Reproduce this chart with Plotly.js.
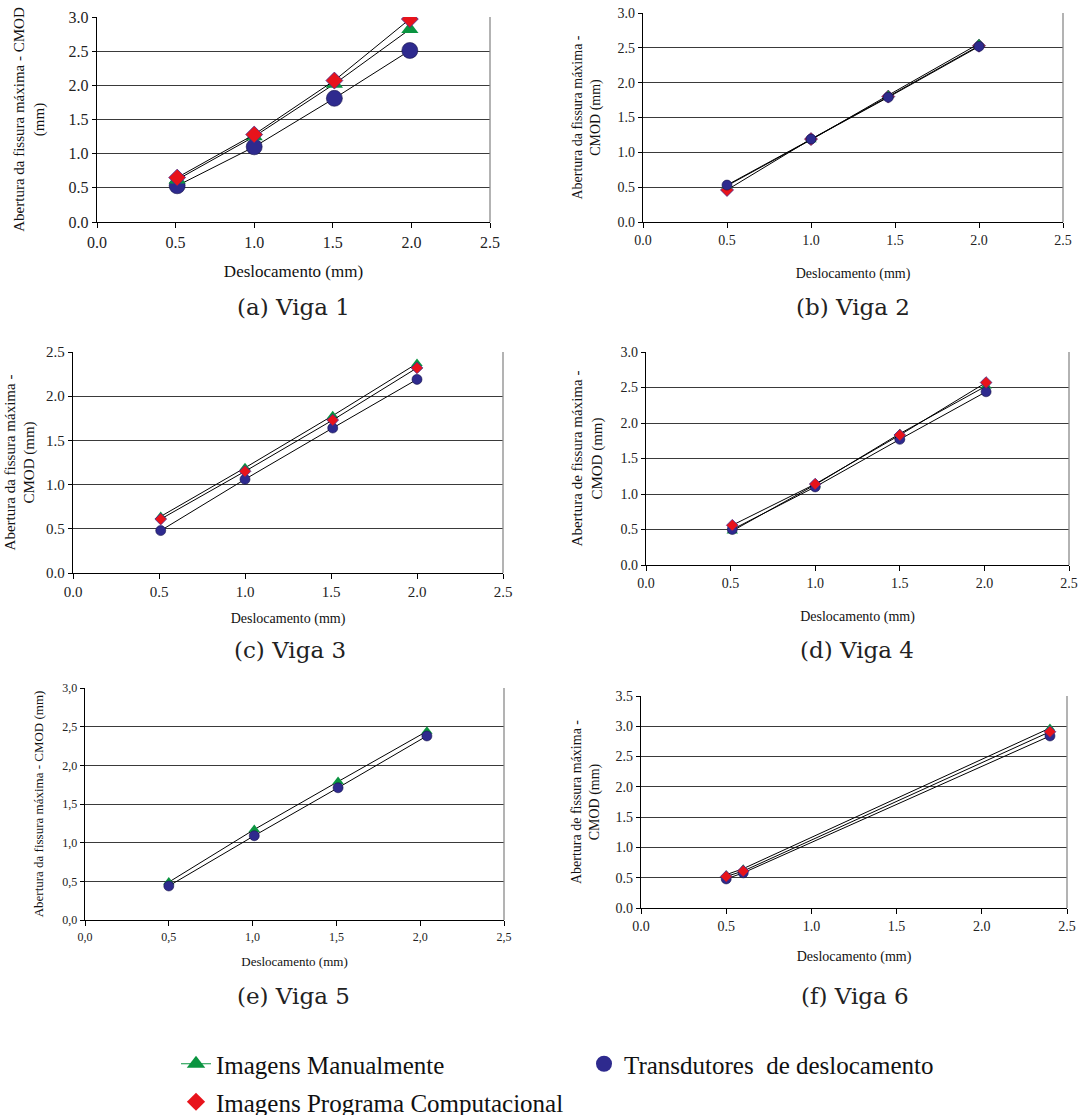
<!DOCTYPE html>
<html>
<head>
<meta charset="utf-8">
<script src="https://cdn.plot.ly/plotly-3.0.1.min.js"></script>
<style>html,body{margin:0;padding:0;background:#fff;}#chart{width:1083px;height:1115px;}</style>
</head>
<body>
<div id="chart"></div>
<script>
// ---- Data ----
const seriesNames = ["Imagens Manualmente", "Transdutores  de deslocamento", "Imagens Programa Computacional"];

const viga1_x      = [0.51, 1.00, 1.51, 1.99];
const viga1_manual = [0.62, 1.25, 2.02, 2.82];
const viga1_trans  = [0.53, 1.10, 1.81, 2.51];
const viga1_comp   = [0.65, 1.28, 2.07, 2.97];

const viga2_x      = [0.50, 1.00, 1.46, 2.00];
const viga2_manual = [0.52, 1.18, 1.82, 2.56];
const viga2_trans  = [0.53, 1.19, 1.79, 2.52];
const viga2_comp   = [0.46, 1.19, 1.80, 2.53];

const viga3_x      = [0.51, 1.00, 1.51, 2.00];
const viga3_manual = [0.64, 1.19, 1.78, 2.37];
const viga3_trans  = [0.48, 1.06, 1.64, 2.19];
const viga3_comp   = [0.61, 1.15, 1.73, 2.32];

const viga4_x      = [0.51, 1.00, 1.50, 2.01];
const viga4_manual = [0.48, 1.13, 1.85, 2.52];
const viga4_trans  = [0.50, 1.10, 1.77, 2.44];
const viga4_comp   = [0.56, 1.14, 1.83, 2.57];

const viga5_x      = [0.50, 1.01, 1.51, 2.04];
const viga5_manual = [0.49, 1.17, 1.79, 2.44];
const viga5_trans  = [0.44, 1.09, 1.71, 2.38];

const viga6_x      = [0.50, 0.60, 2.40];
const viga6_manual = [0.55, 0.65, 2.97];
const viga6_trans  = [0.48, 0.58, 2.84];
const viga6_comp   = [0.52, 0.61, 2.91];

const captions = ["(a) Viga 1", "(b) Viga 2", "(c) Viga 3", "(d) Viga 4", "(e) Viga 5", "(f) Viga 6"];
const xTitle = "Deslocamento (mm)";
const yTitles = [
  "Abertura da fissura máxima - CMOD<br>(mm)",
  "Abertura da fissura máxima -<br>CMOD (mm)",
  "Abertura da fissura máxima -<br>CMOD (mm)",
  "Abertura de fissura máxima -<br>CMOD (mm)",
  "Abertura da fissura máxima - CMOD (mm)",
  "Abertura de fissura máxima -<br>CMOD (mm)"
];
const xTickVals = [0, 0.5, 1.0, 1.5, 2.0, 2.5];
const xTickTextDot = ["0.0", "0.5", "1.0", "1.5", "2.0", "2.5"];
const xTickTextComma = ["0,0", "0,5", "1,0", "1,5", "2,0", "2,5"];
const yTickVals3 = [0, 0.5, 1.0, 1.5, 2.0, 2.5, 3.0];
const yTickText3Dot = ["0.0", "0.5", "1.0", "1.5", "2.0", "2.5", "3.0"];
const yTickText3Comma = ["0,0", "0,5", "1,0", "1,5", "2,0", "2,5", "3,0"];
const yTickVals25 = [0, 0.5, 1.0, 1.5, 2.0, 2.5];
const yTickText25 = ["0.0", "0.5", "1.0", "1.5", "2.0", "2.5"];
const yTickVals35 = [0, 0.5, 1.0, 1.5, 2.0, 2.5, 3.0, 3.5];
const yTickText35 = ["0.0", "0.5", "1.0", "1.5", "2.0", "2.5", "3.0", "3.5"];

// ---- Styles ----
const W = 1083, H = 1115;
const FONT = "'Liberation Serif', 'Times New Roman', serif";
const CAPFONT = "'DejaVu Serif', serif";
const GREEN = "#0a9440", NAVY = "#2e2a8e", RED = "#e8131b";

// plot areas in pixels: [left, right, top, bottom]
const boxes = [
  [97, 490, 17, 222],
  [643, 1063, 13, 222],
  [73, 503, 352, 573],
  [646, 1069, 352, 565],
  [85, 504, 688, 920],
  [641, 1067, 696, 908]
];
const captionPos = [[293, 307], [853, 307], [290, 650], [857, 650], [293, 996], [855, 996]];

function mk(kind, size) {
  if (kind === "manual") return {symbol: "triangle-up", color: GREEN, size: size, line: {color: GREEN, width: 0}};
  if (kind === "trans") return {symbol: "circle", color: NAVY, size: size, line: {color: "#15134a", width: 0.6}};
  return {symbol: "diamond", color: RED, size: size, line: {color: "#4a2a8a", width: 0.8}};
}
function tr(i, x, y, kind, size) {
  const ax = i === 0 ? "" : String(i + 1);
  return {
    x: x, y: y, type: "scatter", mode: "lines+markers",
    xaxis: "x" + ax, yaxis: "y" + ax, showlegend: false, hoverinfo: "skip",
    line: {color: "#000", width: 1},
    marker: mk(kind, size)
  };
}

const traces = [
  tr(0, viga1_x, viga1_trans, "trans", 16),
  tr(0, viga1_x, viga1_manual, "manual", 15),
  tr(0, viga1_x, viga1_comp, "comp", 13),

  tr(1, viga2_x, viga2_comp, "comp", 10),
  tr(1, viga2_x, viga2_manual, "manual", 10),
  tr(1, viga2_x, viga2_trans, "trans", 10),

  tr(2, viga3_x, viga3_trans, "trans", 10),
  tr(2, viga3_x, viga3_manual, "manual", 10),
  tr(2, viga3_x, viga3_comp, "comp", 9),

  tr(3, viga4_x, viga4_manual, "manual", 10),
  tr(3, viga4_x, viga4_trans, "trans", 10),
  tr(3, viga4_x, viga4_comp, "comp", 9),

  tr(4, viga5_x, viga5_manual, "manual", 10),
  tr(4, viga5_x, viga5_trans, "trans", 10),

  tr(5, viga6_x, viga6_manual, "manual", 9),
  tr(5, viga6_x, viga6_trans, "trans", 10),
  tr(5, viga6_x, viga6_comp, "comp", 9)
];

// legend-only entries
traces.push({x: [null], y: [null], type: "scatter", mode: "lines+markers", name: seriesNames[0],
  legend: "legend", line: {color: GREEN, width: 1}, marker: {symbol: "triangle-up", color: GREEN, size: 16}, hoverinfo: "skip"});
traces.push({x: [null], y: [null], type: "scatter", mode: "markers", name: seriesNames[1],
  legend: "legend2", marker: {symbol: "circle", color: NAVY, size: 16}, hoverinfo: "skip"});
traces.push({x: [null], y: [null], type: "scatter", mode: "markers", name: seriesNames[2],
  legend: "legend3", marker: {symbol: "diamond", color: RED, size: 14}, hoverinfo: "skip"});

const legFont = {family: FONT, size: 25, color: "#111"};
const layout = {
  width: W, height: H,
  margin: {l: 0, r: 0, t: 0, b: 0, autoexpand: false},
  paper_bgcolor: "#fff", plot_bgcolor: "#fff",
  font: {family: FONT, color: "#111", size: 13},
  showlegend: true,
  legend: {x: 176 / W, y: 1 - 1041 / H, xanchor: "left", yanchor: "top", font: legFont, bgcolor: "rgba(0,0,0,0)"},
  legend2: {x: 584 / W, y: 1 - 1041 / H, xanchor: "left", yanchor: "top", font: legFont, bgcolor: "rgba(0,0,0,0)"},
  legend3: {x: 176 / W, y: 1 - 1079 / H, xanchor: "left", yanchor: "top", font: legFont, bgcolor: "rgba(0,0,0,0)"},
  annotations: [],
  shapes: []
};

const tickSizes = [16, 14, 15, 14, 12, 14];
const xTitleSizes = [17, 14, 14, 14, 13, 14];
const yTitleSizes = [15, 14, 15, 15, 13, 14];
const yRanges = [[0, 3], [0, 3], [0, 2.5], [0, 3], [0, 3], [0, 3.5]];
const yTV = [yTickVals3, yTickVals3, yTickVals25, yTickVals3, yTickVals3, yTickVals35];
const yTT = [yTickText3Dot, yTickText3Dot, yTickText25, yTickText3Dot, yTickText3Comma, yTickText35];
const xTT = [xTickTextDot, xTickTextDot, xTickTextDot, xTickTextDot, xTickTextComma, xTickTextDot];
const yStandoff = [20, 13, 7, 14, 15, 12];
const xStandoff = [15, 21, 14, 21, 14, 18];

boxes.forEach((b, i) => {
  const ax = i === 0 ? "" : String(i + 1);
  layout["xaxis" + ax] = {
    domain: [b[0] / W, b[1] / W], anchor: "y" + ax,
    range: [0, 2.5], tickmode: "array", tickvals: xTickVals, ticktext: xTT[i],
    showline: true, linecolor: "#000", linewidth: 1.3, ticks: "outside", ticklen: 5, tickcolor: "#000",
    showgrid: false, zeroline: false,
    tickfont: {family: FONT, size: tickSizes[i], color: "#222"},
    title: {text: xTitle, font: {family: FONT, size: xTitleSizes[i], color: "#111"}, standoff: xStandoff[i]}
  };
  layout["yaxis" + ax] = {
    domain: [1 - b[3] / H, 1 - b[2] / H], anchor: "x" + ax,
    range: yRanges[i], tickmode: "array", tickvals: yTV[i], ticktext: yTT[i],
    showline: true, linecolor: "#000", linewidth: 1.3, ticks: "outside", ticklen: 4, tickcolor: "#000",
    showgrid: true, gridcolor: "#3a3a3a", gridwidth: 1, zeroline: false,
    tickfont: {family: FONT, size: tickSizes[i], color: "#222"},
    title: {text: yTitles[i], font: {family: FONT, size: yTitleSizes[i], color: "#111"}, standoff: yStandoff[i]}
  };
  // right border (grey)
  layout.shapes.push({type: "line", xref: "x" + ax + " domain", yref: "y" + ax + " domain",
    x0: 1, x1: 1, y0: 0, y1: 1, line: {color: "#8a8a8a", width: 1.3}});
  layout.annotations.push({text: captions[i], xref: "paper", yref: "paper",
    x: captionPos[i][0] / W, y: 1 - captionPos[i][1] / H, xanchor: "center", yanchor: "middle",
    showarrow: false, font: {family: CAPFONT, size: 23, color: "#222"}});
});

Plotly.newPlot("chart", traces, layout, {displayModeBar: false, staticPlot: true});
</script>
</body>
</html>
